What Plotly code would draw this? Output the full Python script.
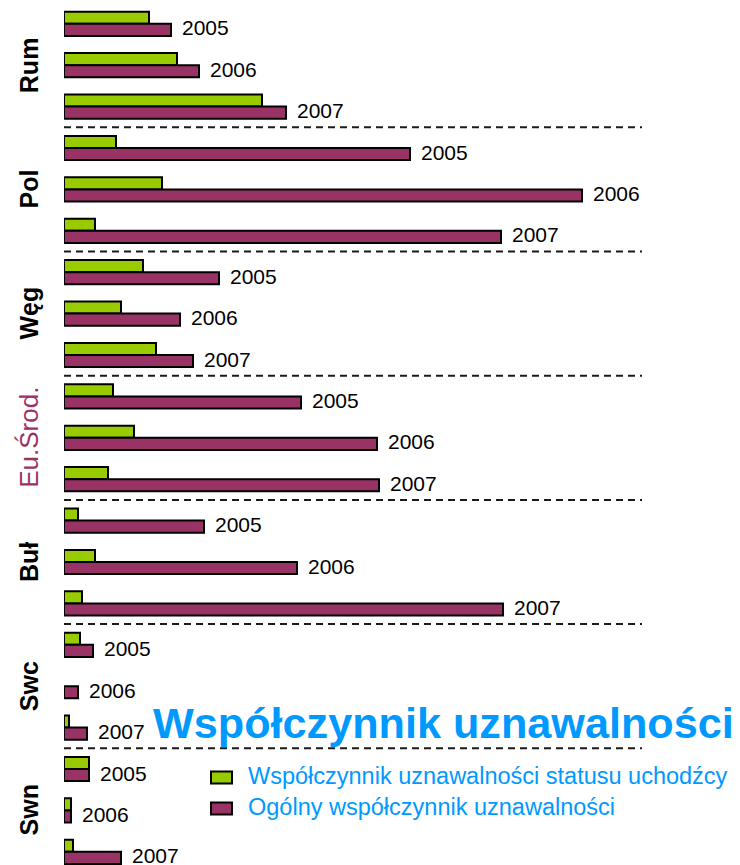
import plotly.graph_objects as go

# ---------------- data ----------------
categories = ["Rum", "Pol", "Węg", "Eu.Środ.", "Buł", "Swc", "Swn"]
years = ["2005", "2006", "2007"]

# Współczynnik uznawalności statusu uchodźcy (per category, per year 2005-2007)
refugee_rate = [8.5, 11.3, 19.8,
                5.2, 9.8, 3.1,
                7.9, 5.7, 9.2,
                4.9, 7.0, 4.4,
                1.4, 3.1, 1.8,
                1.6, None, 0.5,
                2.5, 0.7, 0.9]

# Ogólny współczynnik uznawalności
overall_rate = [10.7, 13.5, 22.2,
                34.6, 51.8, 43.7,
                15.5, 11.6, 12.9,
                23.7, 31.3, 31.5,
                14.0, 23.3, 43.9,
                2.9, 1.4, 2.3,
                2.5, 0.7, 5.7]

series_names = ["Współczynnik uznawalności statusu uchodźcy",
                "Ogólny współczynnik uznawalności"]
title_text = "Współczynnik uznawalności"

# ---------------- style ----------------
GREEN = "#99CC00"
PURPLE = "#993366"
BLUE = "#0099FF"
FONT = "Liberation Sans, Arial, sans-serif"
OFF = 8            # page body margin
W, H = 732, 857    # figure size
L = 56             # left margin (figure px)
UNIT_PX = 10.0
SLOT_PX = 41.4
TOP_SLOT_PX = 23.8 - OFF

n_slots = len(categories) * len(years)
slots = list(range(n_slots))
slot_years = years * len(categories)

y_top = -TOP_SLOT_PX / SLOT_PX
y_bot = (n_slots - 1) + (H - (TOP_SLOT_PX + (n_slots - 1) * SLOT_PX)) / SLOT_PX
bw = 12.1 / SLOT_PX


def px_x(p):
    """screen px -> paper x"""
    return (p - OFF - L) / (W - L)


def px_y(p):
    """screen px -> paper y"""
    return 1 - (p - OFF) / H


fig = go.Figure()
fig.add_trace(go.Bar(
    y=slots, x=refugee_rate, orientation="h", offset=-bw, width=bw,
    name=series_names[0], showlegend=False,
    marker=dict(color=GREEN, line=dict(color="black", width=2)),
))
fig.add_trace(go.Bar(
    y=slots, x=overall_rate, orientation="h", offset=0, width=bw,
    name=series_names[1], showlegend=False,
    marker=dict(color=PURPLE, line=dict(color="black", width=2)),
))

annotations = []
# year labels next to overall bars
for s, v, yr in zip(slots, overall_rate, slot_years):
    annotations.append(dict(
        x=v, y=s, xref="x", yref="y", text=yr, showarrow=False,
        xanchor="left", yanchor="middle", xshift=9, yshift=-4,
        font=dict(family=FONT, size=21, color="black"),
    ))

# rotated category labels
for gi, cat in enumerate(categories):
    mid = gi * len(years) + 1
    is_avg = cat.startswith("Eu")
    annotations.append(dict(
        x=px_x(29), y=mid, xref="paper", yref="y",
        text=cat if is_avg else "<b>%s</b>" % cat,
        textangle=-90, showarrow=False, xanchor="center", yanchor="middle",
        font=dict(family=FONT, size=26 if is_avg else 25,
                  color=PURPLE if is_avg else "black"),
    ))

# title
annotations.append(dict(
    x=px_x(151), y=px_y(723), xref="paper", yref="paper",
    text="<b>%s</b>" % title_text, showarrow=False,
    xanchor="left", yanchor="middle",
    font=dict(family=FONT, size=43.2, color=BLUE),
))

# legend (manual)
shapes = []
legend_rows = [(GREEN, 777.5), (PURPLE, 808.5)]
for (col, cy), name in zip(legend_rows, series_names):
    shapes.append(dict(
        type="rect", xref="paper", yref="paper",
        x0=px_x(211), x1=px_x(232), y0=px_y(cy - 6), y1=px_y(cy + 6),
        fillcolor=col, line=dict(color="black", width=2),
    ))
    annotations.append(dict(
        x=px_x(246), y=px_y(cy - 1.5), xref="paper", yref="paper",
        text=name, showarrow=False, xanchor="left", yanchor="middle",
        font=dict(family=FONT, size=23.5, color=BLUE),
    ))

# dashed separators between categories
for gi in range(1, len(categories)):
    yb = gi * len(years) - 0.5
    shapes.append(dict(
        type="line", xref="x", yref="y", x0=0, x1=(642 - OFF - L) / UNIT_PX,
        y0=yb, y1=yb, line=dict(color="#1a1a1a", width=2, dash="7px,5px"),
    ))

fig.update_layout(
    width=W, height=H,
    margin=dict(l=L, r=0, t=0, b=0),
    paper_bgcolor="white", plot_bgcolor="white",
    barmode="overlay",
    xaxis=dict(range=[0, (W - L) / UNIT_PX], visible=False),
    yaxis=dict(range=[y_bot, y_top], visible=False),
    annotations=annotations, shapes=shapes,
    showlegend=False,
)

fig.write_html("out.html")
